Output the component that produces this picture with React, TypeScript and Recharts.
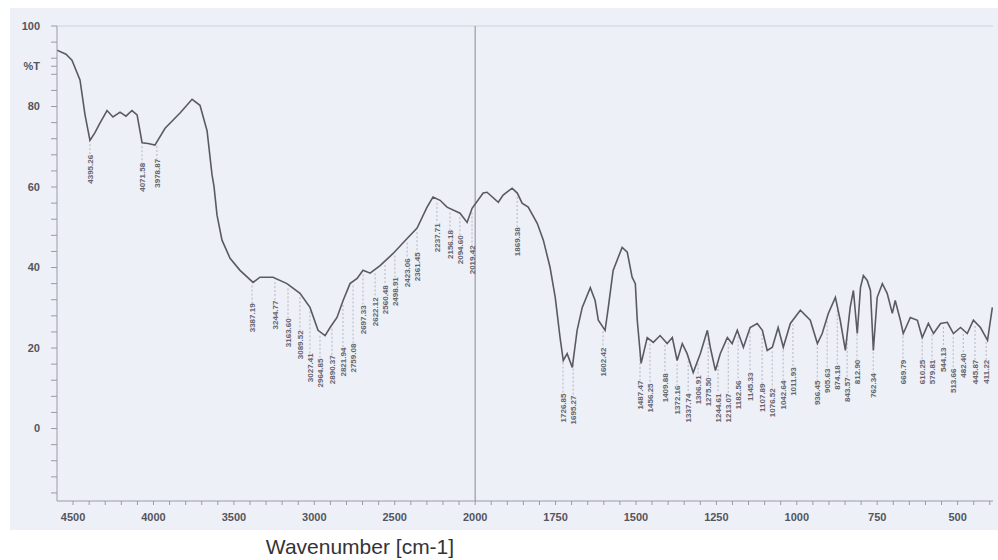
import {
  ComposedChart,
  Line,
  Scatter,
  XAxis,
  YAxis,
  ReferenceLine,
} from "recharts";

// FTIR spectrum (wavenumber cm-1 -> %T)
const wavenumbers = [
  4600, 4544, 4507, 4457, 4426, 4395, 4364, 4333, 4289, 4252, 4208, 4171, 4134, 4102,
  4071, 4034, 3991, 3928, 3835, 3760, 3711, 3667, 3636, 3624, 3605, 3574, 3524, 3462,
  3381, 3338, 3257, 3170, 3089, 3027, 2977, 2933, 2902, 2859, 2821, 2778, 2734, 2697,
  2653, 2591, 2510, 2423, 2361, 2299, 2262, 2218, 2175, 2094, 2050, 2019,
  1975, 1963, 1928, 1913, 1885, 1869, 1854, 1835, 1807, 1788, 1767, 1751, 1736, 1726,
  1714, 1698, 1683, 1667, 1642, 1627, 1617, 1596, 1586, 1571, 1543, 1527, 1512, 1502,
  1496, 1484, 1465, 1446, 1425, 1403, 1387, 1372, 1356, 1341, 1322, 1300, 1278, 1269,
  1253, 1238, 1216, 1201, 1185, 1166, 1145, 1123, 1107, 1092, 1076, 1058, 1042, 1020,
  989, 958, 936, 921, 902, 880, 865, 849, 834, 824, 812, 802, 793, 781, 771, 762, 750,
  734, 719, 703, 694, 678, 669, 647, 625, 610, 591, 575, 553, 532, 513, 491, 470, 451,
  429, 407, 392,
];
const transmittance = [
  94.0, 93.0, 91.5, 86.6, 78.0, 71.6, 73.5, 75.9, 79.0, 77.4, 78.6, 77.6, 79.0, 77.9,
  71.0, 70.8, 70.4, 74.6, 78.4, 81.8, 80.3, 74.0, 63.0, 60.2, 53.0, 46.8, 42.3, 39.3,
  36.3, 37.6, 37.6, 36.0, 33.6, 30.1, 24.4, 23.1, 25.1, 27.6, 31.8, 36.0, 37.3, 39.3,
  38.6, 40.5, 43.5, 47.2, 49.8, 55.0, 57.5, 56.7, 55.0, 53.5, 51.2, 54.7,
  58.5, 58.7, 56.2, 58.0, 59.7, 58.5, 56.0, 55.0, 51.0, 46.8, 40.0, 32.6, 22.6, 16.9,
  18.6, 15.2, 24.4, 30.1, 35.0, 31.8, 26.9, 24.4, 30.1, 39.3, 45.0, 43.8, 37.6, 36.0,
  26.9, 16.2, 22.6, 21.4, 23.1, 21.1, 22.6, 16.9, 21.1, 18.6, 13.9, 18.6, 24.4, 20.2,
  14.4, 18.6, 22.6, 21.1, 24.4, 20.2, 25.1, 26.1, 24.4, 19.4, 20.2, 25.1, 20.2, 26.1,
  29.4, 26.9, 21.1, 23.6, 28.6, 32.6, 26.9, 19.4, 30.1, 34.3, 23.6, 35.0, 38.0, 36.8,
  34.3, 19.4, 32.6, 36.0, 33.6, 28.6, 31.8, 26.9, 23.6, 27.6, 26.9, 22.6, 26.1, 23.6,
  26.1, 26.4, 23.6, 25.1, 23.6, 26.9, 25.1, 21.9, 30.1,
];

// peak picks printed under the trace
const peakWaves = [
  4395.26, 4071.58, 3978.87, 3387.19, 3244.77, 3163.6, 3089.52, 3027.41, 2964.85,
  2890.37, 2821.94, 2759.08, 2697.33, 2622.12, 2560.48, 2498.91, 2423.06, 2361.45,
  2237.71, 2156.18, 2094.6, 2019.42, 1869.38, 1726.85, 1695.27, 1602.42, 1487.47,
  1456.25, 1409.88, 1372.16, 1337.74, 1306.91, 1275.5, 1244.61, 1213.07, 1182.56,
  1145.33, 1107.89, 1076.52, 1042.64, 1011.93, 936.45, 905.63, 874.18, 843.57, 812.9,
  762.34, 669.79, 610.25, 579.81, 544.13, 513.66, 482.4, 445.87, 411.22,
];
const peakTops = [
  68, 66, 67, 31.1, 31.8, 27.4, 24.4, 18.7, 17.4, 18.2, 20.1, 21.1, 30.6, 32.6, 35.6,
  37.6, 42.3, 43.8, 51, 49.3, 48, 45.5, 50, 8.7, 8.2, 20.1, 11.9, 11.2, 13.7, 10.7, 8.7,
  13.2, 12.7, 8.7, 8.7, 11.9, 13.9, 11.2, 10, 11.9, 15.2, 11.9, 14.9, 15.7, 12.7, 17.1,
  13.7, 17.1, 17.1, 17.1, 20.1, 14.9, 18.7, 17.1, 17.1,
];

const majorTicks = [4500, 4000, 3500, 3000, 2500, 2000, 1750, 1500, 1250, 1000, 750, 500];
const yLabels = [0, 20, 40, 60, 80, 100];

// the instrument halves the scale above 2000 cm-1
const toPos = (w: number) => (w >= 2000 ? 4600 - w : 2600 + 2 * (2000 - w));
const fromPos = (p: number) => (p <= 2600 ? 4600 - p : 2000 - (p - 2600) / 2);

const data = wavenumbers.map((w, i) => ({ pos: toPos(w), t: transmittance[i] }));

const curveAt = (w: number) => {
  for (let i = 0; i < wavenumbers.length - 1; i++) {
    const a = wavenumbers[i];
    const b = wavenumbers[i + 1];
    if (w <= a && w >= b) {
      const f = (a - w) / (a - b);
      return transmittance[i] + f * (transmittance[i + 1] - transmittance[i]);
    }
  }
  return transmittance[transmittance.length - 1];
};

const peaks = peakWaves.map((w, i) => ({
  pos: toPos(w),
  top: peakTops[i],
  text: w.toFixed(2),
  curve: curveAt(w),
}));

const xTicks: number[] = [];
for (let w = 4500; w >= 2000; w -= 100) xTicks.push(toPos(w));
for (let w = 1950; w >= 400; w -= 50) xTicks.push(toPos(w));

const yTicks: number[] = [90];
for (let v = -16; v <= 100; v += 4) yTicks.push(v);

const PeakLabel = (props: any) => {
  const { cx, cy, payload } = props;
  return (
    <text
      x={cx}
      y={cy}
      dy={3}
      transform={`rotate(-90 ${cx} ${cy})`}
      textAnchor="end"
      fontSize={8}
      fontFamily="Liberation Sans, Arial, sans-serif"
      fontWeight="bold"
      fill="#66666e"
    >
      {payload.text}
    </text>
  );
};

export default function App() {
  return (
    <div
      style={{
        position: "absolute",
        left: 0,
        top: 0,
        width: 998,
        height: 560,
        background: "#ffffff",
        fontFamily: "Liberation Sans, Arial, sans-serif",
      }}
    >
      <div
        style={{
          position: "absolute",
          left: 10,
          top: 8,
          width: 988,
          height: 522,
          background: "#eef0f8",
        }}
      />
      <div style={{ position: "absolute", left: 0, top: 0 }}>
        <ComposedChart
          width={998}
          height={560}
          data={data}
          margin={{ top: 26, right: 5, bottom: 29, left: 0 }}
        >
          <XAxis
            type="number"
            dataKey="pos"
            domain={[0, toPos(390)]}
            ticks={xTicks}
            interval={0}
            allowDataOverflow
            height={30}
            tickSize={4}
            tickMargin={8}
            stroke="#9a9aa4"
            tick={{ fontSize: 11, fill: "#55555c", fontWeight: "bold" }}
            tickFormatter={(p: number) => {
              const w = Math.round(fromPos(p));
              return majorTicks.includes(w) ? String(w) : "";
            }}
          />
          <YAxis
            type="number"
            domain={[-18, 100]}
            ticks={yTicks}
            interval={0}
            allowDataOverflow
            width={57}
            tickSize={6}
            tickMargin={11}
            stroke="#9a9aa4"
            tick={{ fontSize: 11, fill: "#55555c", fontWeight: "bold" }}
            tickFormatter={(v: number) =>
              v === 90 ? "%T" : yLabels.includes(v) ? String(v) : ""
            }
          />
          <ReferenceLine y={100} stroke="#cfd1dc" strokeWidth={1} />
          <ReferenceLine x={toPos(2000)} stroke="#8a8a92" strokeWidth={1} />
          {peaks.map((p) => (
            <ReferenceLine
              key={p.text}
              segment={[
                { x: p.pos, y: p.curve - 1 },
                { x: p.pos, y: p.top },
              ]}
              stroke="#a6a6b0"
              strokeDasharray="2 2"
              strokeWidth={0.8}
            />
          ))}
          <Line
            type="linear"
            dataKey="t"
            stroke="#5a5a62"
            strokeWidth={1.6}
            dot={false}
            isAnimationActive={false}
          />
          <Scatter
            data={peaks}
            dataKey="top"
            shape={PeakLabel}
            isAnimationActive={false}
          />
        </ComposedChart>
      </div>
      <div
        style={{
          position: "absolute",
          left: 210,
          top: 535,
          width: 300,
          textAlign: "center",
          fontSize: 21,
          color: "#333338",
        }}
      >
        Wavenumber [cm-1]
      </div>
    </div>
  );
}
